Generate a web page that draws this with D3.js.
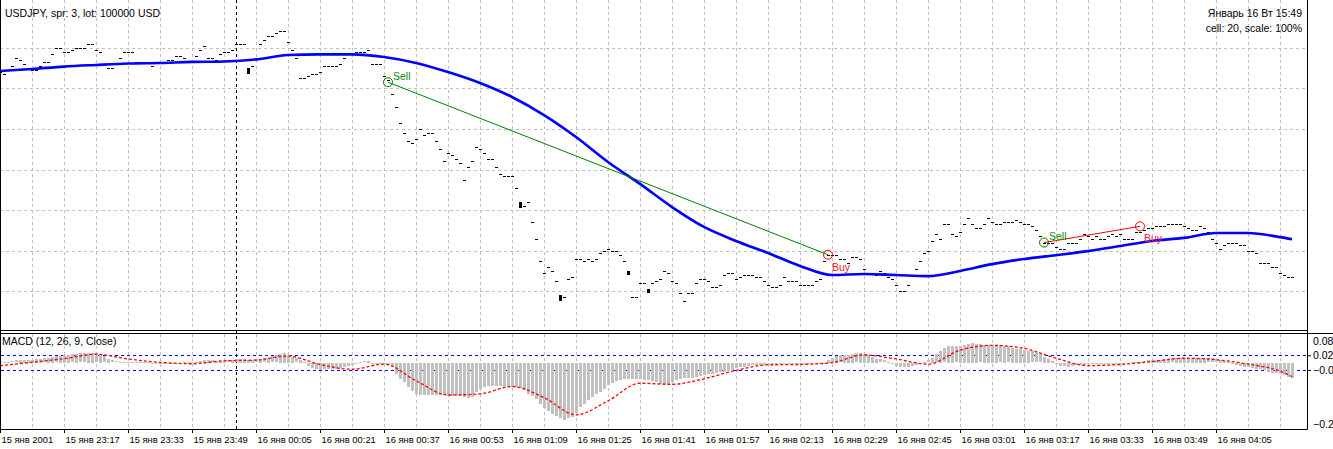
<!DOCTYPE html>
<html>
<head>
<meta charset="utf-8">
<script src="https://cdn.jsdelivr.net/npm/d3@7"></script>
<style>
  body { margin: 0; background: #fff; }
  text { font-family: "Liberation Sans", Arial, sans-serif; }
</style>
</head>
<body>
<svg id="chart"></svg>
<script>
// ---- data (M1 bars, 15 янв 23:01 .. 16 янв 04:24) ----
const timeLabels = ["15 янв 2001", "15 янв 23:17", "15 янв 23:33", "15 янв 23:49", "16 янв 00:05",
  "16 янв 00:21", "16 янв 00:37", "16 янв 00:53", "16 янв 01:09", "16 янв 01:25", "16 янв 01:41",
  "16 янв 01:57", "16 янв 02:13", "16 янв 02:29", "16 янв 02:45", "16 янв 03:01", "16 янв 03:17",
  "16 янв 03:33", "16 янв 03:49", "16 янв 04:05"];
const labelIdx = [0, 16, 32, 48, 64, 80, 96, 112, 128, 144, 160, 176, 192, 208, 224, 240, 256, 272, 288, 304];
const separatorIdx = 59; // 16 янв 00:00

const closes = [
  175.68, 175.67, 175.69, 175.71, 175.75, 175.74, 175.72, 175.70, 175.69, 175.69,
  175.71, 175.73, 175.73, 175.77, 175.80, 175.80, 175.78, 175.78, 175.79, 175.80,
  175.80, 175.80, 175.82, 175.82, 175.79, 175.78, 175.72, 175.70, 175.70, 175.72,
  175.75, 175.78, 175.78, 175.78, 175.73, 175.73, 175.73, 175.73, 175.71, 175.73,
  175.73, 175.73, 175.74, 175.74, 175.76, 175.76, 175.75, 175.73, 175.73, 175.76,
  175.79, 175.81, 175.75, 175.75, 175.74, 175.77, 175.78, 175.78, 175.79, 175.82,
  175.82, 175.82, 175.68, 175.71, 175.75, 175.82, 175.84, 175.86, 175.86, 175.87,
  175.88, 175.88, 175.83, 175.79, 175.75, 175.65, 175.65, 175.66, 175.67, 175.67,
  175.68, 175.71, 175.71, 175.71, 175.71, 175.72, 175.75, 175.77, 175.77, 175.78,
  175.78, 175.78, 175.79, 175.72, 175.72, 175.72, 175.66, 175.64, 175.57, 175.51,
  175.43, 175.38, 175.34, 175.33, 175.35, 175.40, 175.37, 175.38, 175.38, 175.34,
  175.30, 175.24, 175.28, 175.27, 175.25, 175.23, 175.15, 175.21, 175.24, 175.31,
  175.30, 175.28, 175.25, 175.25, 175.21, 175.18, 175.17, 175.17, 175.17, 175.11,
  175.02, 175.02, 175.04, 174.94, 174.86, 174.75, 174.69, 174.72, 174.70, 174.65,
  174.56, 174.57, 174.66, 174.67, 174.76, 174.76, 174.75, 174.76, 174.75, 174.76,
  174.79, 174.80, 174.81, 174.80, 174.80, 174.78, 174.75, 174.69, 174.57, 174.57,
  174.64, 174.64, 174.60, 174.64, 174.65, 174.66, 174.70, 174.69, 174.65, 174.64,
  174.59, 174.55, 174.59, 174.59, 174.64, 174.66, 174.66, 174.65, 174.62, 174.62,
  174.63, 174.68, 174.69, 174.69, 174.66, 174.67, 174.68, 174.68, 174.68, 174.67,
  174.67, 174.65, 174.63, 174.62, 174.62, 174.63, 174.67, 174.65, 174.65, 174.65,
  174.63, 174.63, 174.63, 174.63, 174.65, 174.66, 174.75, 174.78, 174.78, 174.78,
  174.76, 174.76, 174.74, 174.77, 174.77, 174.76, 174.71, 174.69, 174.69, 174.68,
  174.70, 174.69, 174.67, 174.66, 174.63, 174.60, 174.60, 174.63, 174.68, 174.71,
  174.75, 174.79, 174.80, 174.85, 174.88, 174.86, 174.93, 174.93, 174.88, 174.87,
  174.89, 174.93, 174.96, 174.93, 174.91, 174.91, 174.93, 174.96, 174.94, 174.93,
  174.93, 174.94, 174.94, 174.94, 174.95, 174.94, 174.93, 174.93, 174.92, 174.90,
  174.87, 174.84, 174.84, 174.84, 174.82, 174.81, 174.81, 174.84, 174.84, 174.84,
  174.86, 174.88, 174.87, 174.86, 174.87, 174.86, 174.86, 174.87, 174.88, 174.87,
  174.88, 174.86, 174.86, 174.86, 174.89, 174.89, 174.90, 174.91, 174.91, 174.92,
  174.92, 174.92, 174.93, 174.93, 174.93, 174.93, 174.92, 174.91, 174.90, 174.90,
  174.92, 174.91, 174.89, 174.86, 174.84, 174.81, 174.83, 174.84, 174.84, 174.84,
  174.83, 174.83, 174.80, 174.80, 174.79, 174.74, 174.74, 174.74, 174.72, 174.72,
  174.69, 174.68, 174.67, 174.67
];
// bars that show a visible body: [index, open, close]
const bodyBars = [[62, 175.70, 175.67], [130, 175.04, 175.01], [140, 174.58, 174.55],
  [157, 174.70, 174.68], [162, 174.61, 174.59]];

// blue moving average, every 8 bars
const maIdx = [0, 8, 16, 24, 32, 40, 48, 56, 64, 72, 80, 88, 96, 104, 112, 120, 128, 136, 144, 152, 160,
  168, 176, 184, 192, 200, 208, 216, 224, 232, 240, 248, 256, 264, 272, 280, 288, 296, 304, 312, 320, 323];
const maValues = [175.685, 175.695, 175.707, 175.715, 175.722, 175.725, 175.730, 175.732, 175.742, 175.764,
  175.767, 175.767, 175.754, 175.725, 175.680, 175.626, 175.557, 175.468, 175.360, 175.237, 175.129,
  175.015, 174.917, 174.848, 174.789, 174.725, 174.680, 174.685, 174.680, 174.675, 174.700, 174.734,
  174.759, 174.778, 174.798, 174.823, 174.848, 174.863, 174.887, 174.887, 174.867, 174.857];

// trades
const tradeOpenIdx = [97, 261];
const tradeOpenPrice = [175.63, 174.84];
const tradeCloseIdx = [207, 285];
const tradeClosePrice = [174.78, 174.92];

// MACD (12, 26, 9, Close)
const macdHist = [
  0.002, 0.002, 0.003, 0.004, 0.006, 0.007, 0.007, 0.008, 0.008,
  0.010, 0.011, 0.012, 0.013, 0.015, 0.017, 0.019, 0.021, 0.022, 0.023, 0.024,
  0.025, 0.025, 0.026, 0.026, 0.025, 0.022, 0.017, 0.011, 0.006,
  0.004, 0.003, 0.003, 0.003, 0.002, 0.002, 0.002,
  0.001, 0.001, 0.000, 0.000, -0.001, -0.001, -0.001, -0.001, 0.000, 0.000, 0.001, 0.001, 0.002, 0.003,
  0.005, 0.007, 0.007, 0.006, 0.005, 0.005, 0.005, 0.006, 0.007,
  0.009, 0.010, 0.010, 0.008, 0.008, 0.009, 0.010, 0.012, 0.014, 0.017, 0.020, 0.024, 0.027,
  0.022, 0.016, 0.012, 0.008, 0.002, -0.008, -0.014, -0.017, -0.018,
  -0.017, -0.016, -0.015, -0.015, -0.014, -0.012, -0.009, -0.006, -0.002,
  0.002, 0.004, 0.005, -0.001, -0.002, -0.003, -0.004, -0.006, -0.010, -0.029,
  -0.043, -0.052, -0.065, -0.076, -0.083, -0.087,
  -0.088, -0.088, -0.088, -0.088, -0.088, -0.088, -0.089, -0.089, -0.090, -0.091,
  -0.093, -0.094, -0.093, -0.080, -0.070, -0.064,
  -0.063, -0.062, -0.062, -0.062, -0.063, -0.064, -0.065, -0.065, -0.067,
  -0.074, -0.083, -0.090, -0.097,
  -0.111, -0.122, -0.131, -0.138, -0.145, -0.151, -0.154, -0.151, -0.147,
  -0.135, -0.120, -0.111, -0.102, -0.093, -0.083, -0.079, -0.070,
  -0.061, -0.054, -0.050, -0.045, -0.044, -0.043, -0.043, -0.043, -0.043,
  -0.046, -0.047, -0.048, -0.052, -0.056, -0.060, -0.061,
  -0.052, -0.045, -0.043, -0.041, -0.041, -0.040, -0.038,
  -0.035, -0.034, -0.031, -0.029, -0.028, -0.025, -0.025, -0.021, -0.018,
  -0.014, -0.011, -0.010, -0.007, -0.006, -0.006, -0.006,
  -0.005, -0.005, -0.005, -0.004, -0.004, -0.004, -0.004, -0.004, -0.004, -0.004, -0.004,
  -0.003, -0.003, -0.003, -0.003, -0.002,
  0.007, 0.014, 0.018, 0.020, 0.021, 0.021, 0.024, 0.025, 0.026,
  0.024, 0.021, 0.016, 0.011, 0.009, 0.006, 0.002,
  -0.004, -0.007, -0.010, -0.011, -0.010, -0.008, -0.005, -0.003,
  0.002, 0.006, 0.014, 0.023, 0.032, 0.039, 0.046,
  0.045, 0.044, 0.045, 0.049, 0.051, 0.054,
  0.052, 0.050, 0.048, 0.048, 0.048, 0.048, 0.047,
  0.046, 0.044, 0.041, 0.038, 0.037, 0.035, 0.033, 0.031,
  0.028, 0.023, 0.016, 0.010, 0.005,
  -0.004, -0.007, -0.009, -0.010, -0.008,
  -0.006, -0.005, -0.005, -0.004, -0.004, -0.004, -0.004, -0.003, -0.003, -0.003,
  -0.002, -0.001, -0.001, 0.000, 0.001,
  0.002, 0.003, 0.004, 0.006, 0.007, 0.008, 0.008,
  0.010, 0.011, 0.012, 0.013, 0.013, 0.014, 0.014, 0.014, 0.013, 0.013, 0.013, 0.012, 0.012,
  0.009, 0.007, 0.005, 0.001, -0.003, -0.006,
  -0.009, -0.011, -0.012, -0.014, -0.015, -0.016,
  -0.020, -0.024, -0.026, -0.027, -0.029, -0.034, -0.039, -0.041
];
// signal line, sampled at maIdx
const signalValues = [-0.008, 0.001, 0.011, 0.023, 0.010, 0.001, -0.003, 0.005, 0.007, 0.018,
  -0.005, -0.018, -0.004, -0.049, -0.088, -0.085, -0.065, -0.095, -0.142, -0.104, -0.056,
  -0.059, -0.044, -0.021, -0.006, -0.005, 0.000, 0.021, 0.010, -0.004, 0.034, 0.047,
  0.039, 0.012, -0.008, -0.005, 0.003, 0.012, 0.008, -0.004, -0.023, -0.038];

const priceTicks = [176.0, 175.8, 175.6, 175.4, 175.2, 175.0, 174.8, 174.6, 174.4];
const macdLevels = [0.02, -0.02];
const macdScaleMax = 0.08;
const macdScaleMin = -0.2;

// ---- layout ----
const svgWidth = 1333;
const svgHeight = 449;
const axisX = 1307;
const priceBottom = 330;
const macdTop = 334;
const macdBottom = 429;
const font = "'Liberation Sans', Arial, sans-serif";

const svg = d3.select("#chart")
  .attr("width", svgWidth)
  .attr("height", svgHeight);

svg.append("rect")
  .attr("width", svgWidth)
  .attr("height", svgHeight)
  .attr("fill", "#fff");

const x = d3.scaleLinear().domain([0, 326.75]).range([0, axisX]);
const yPrice = d3.scaleLinear().domain([174.4, 176.0]).range([331.9, 7.1]);
const yMacd = d3.scaleLinear().domain([macdScaleMin, macdScaleMax]).range([436.15, 333.25]);
const px = i => Math.round(x(i));

const defs = svg.append("defs");
defs.append("clipPath").attr("id", "clipPrice")
  .append("rect").attr("x", 1).attr("y", 0).attr("width", axisX - 1).attr("height", priceBottom);
defs.append("clipPath").attr("id", "clipMacd")
  .append("rect").attr("x", 1).attr("y", macdTop).attr("width", axisX - 1).attr("height", macdBottom - macdTop);
defs.append("clipPath").attr("id", "clipPriceAxis")
  .append("rect").attr("x", axisX).attr("y", 0).attr("width", 40).attr("height", 333);

// ---- grid ----
const gridIdx = d3.range(8, 326, 8);
const grid = svg.append("g")
  .attr("stroke", "#c0c0c0")
  .attr("stroke-width", 1)
  .attr("stroke-dasharray", "3,3");

gridIdx.forEach(i => {
  grid.append("line")
    .attr("x1", px(i) + 0.5).attr("x2", px(i) + 0.5)
    .attr("y1", 0).attr("y2", priceBottom);
  grid.append("line")
    .attr("x1", px(i) + 0.5).attr("x2", px(i) + 0.5)
    .attr("y1", macdTop).attr("y2", macdBottom);
});

priceTicks.filter(d => d < 176.0 && d > 174.4).forEach(d => {
  grid.append("line")
    .attr("x1", 0).attr("x2", axisX)
    .attr("y1", Math.round(yPrice(d)) + 0.5).attr("y2", Math.round(yPrice(d)) + 0.5);
});

// MACD levels
macdLevels.forEach(v => {
  svg.append("line")
    .attr("x1", 1).attr("x2", axisX)
    .attr("y1", Math.round(yMacd(v)) + 0.5).attr("y2", Math.round(yMacd(v)) + 0.5)
    .attr("stroke", "#0000ff")
    .attr("stroke-dasharray", "3,3");
});

// period separator
svg.append("line")
  .attr("x1", px(separatorIdx) + 0.5).attr("x2", px(separatorIdx) + 0.5)
  .attr("y1", 0).attr("y2", macdBottom)
  .attr("stroke", "#000")
  .attr("stroke-dasharray", "3,3");

// ---- price panel ----
const pricePlot = svg.append("g").attr("clip-path", "url(#clipPrice)");

pricePlot.selectAll(".bar")
  .data(closes)
  .enter()
  .append("rect")
  .attr("class", "bar")
  .attr("x", (d, i) => px(i) - 1)
  .attr("y", d => Math.round(yPrice(d)))
  .attr("width", 3)
  .attr("height", 1)
  .attr("fill", "#000");

pricePlot.selectAll(".body")
  .data(bodyBars)
  .enter()
  .append("rect")
  .attr("class", "body")
  .attr("x", d => px(d[0]) - 1)
  .attr("y", d => Math.round(yPrice(Math.max(d[1], d[2]))))
  .attr("width", 3)
  .attr("height", d => Math.max(2, Math.round(Math.abs(yPrice(d[1]) - yPrice(d[2])))))
  .attr("fill", "#000");

const maLine = d3.line()
  .x((d, k) => x(maIdx[k]))
  .y(d => yPrice(d))
  .curve(d3.curveMonotoneX);

pricePlot.append("path")
  .attr("d", maLine(maValues))
  .attr("fill", "none")
  .attr("stroke", "#0000ff")
  .attr("stroke-width", 2.6);

// trades
tradeOpenIdx.forEach((openIdx, k) => {
  const x1 = x(openIdx), y1 = yPrice(tradeOpenPrice[k]);
  const x2 = x(tradeCloseIdx[k]), y2 = yPrice(tradeClosePrice[k]);
  const profit = tradeClosePrice[k] < tradeOpenPrice[k];

  pricePlot.append("line")
    .attr("x1", x1).attr("y1", y1).attr("x2", x2).attr("y2", y2)
    .attr("stroke", profit ? "#008000" : "#ff0000")
    .attr("stroke-width", 1);

  pricePlot.append("circle")
    .attr("cx", x1).attr("cy", y1).attr("r", 4.5)
    .attr("fill", "none").attr("stroke", "#008000");
  pricePlot.append("text")
    .attr("x", x1 + 5).attr("y", y1 - 2.5)
    .attr("font-size", 10.5)
    .attr("fill", "#0a8a0a")
    .text("Sell");

  pricePlot.append("circle")
    .attr("cx", x2).attr("cy", y2).attr("r", 4.5)
    .attr("fill", "none").attr("stroke", "#ff0000");
  pricePlot.append("text")
    .attr("x", x2 + 4).attr("y", y2 + 16)
    .attr("font-size", 10.5)
    .attr("fill", "#f02020")
    .text("Buy");
});

// ---- MACD panel ----
const macdPlot = svg.append("g").attr("clip-path", "url(#clipMacd)");
const zeroY = yMacd(0);

macdPlot.selectAll(".hist")
  .data(macdHist)
  .enter()
  .append("rect")
  .attr("class", "hist")
  .attr("x", (d, i) => px(i) - 1)
  .attr("y", d => Math.round(Math.min(yMacd(d), zeroY)))
  .attr("width", 3)
  .attr("height", d => Math.max(1, Math.round(Math.abs(yMacd(d) - zeroY))))
  .attr("fill", "#c0c0c0");

const signalLine = d3.line()
  .x((d, k) => x(maIdx[k]))
  .y(d => yMacd(d))
  .curve(d3.curveMonotoneX);

macdPlot.append("path")
  .attr("d", signalLine(signalValues))
  .attr("fill", "none")
  .attr("stroke", "#ff0000")
  .attr("stroke-width", 1.3)
  .attr("stroke-dasharray", "3,2");

// ---- frames ----
const frame = svg.append("g").attr("stroke", "#000").attr("stroke-width", 1);
frame.append("line").attr("x1", 0.5).attr("x2", 0.5).attr("y1", 0).attr("y2", macdBottom + 0.5);
frame.append("line").attr("x1", axisX + 0.5).attr("x2", axisX + 0.5).attr("y1", 0).attr("y2", macdBottom + 0.5);
frame.append("line").attr("x1", 0).attr("x2", axisX + 0.5).attr("y1", priceBottom + 0.5).attr("y2", priceBottom + 0.5);
frame.append("line").attr("x1", 0).attr("x2", svgWidth).attr("y1", macdTop - 0.5).attr("y2", macdTop - 0.5);
frame.append("line").attr("x1", 0).attr("x2", axisX + 0.5).attr("y1", macdBottom + 0.5).attr("y2", macdBottom + 0.5);

// ---- axes ----
const priceAxis = d3.axisRight(yPrice)
  .tickValues(priceTicks)
  .tickSize(4)
  .tickPadding(2)
  .tickFormat(d3.format(".2f"));

svg.append("g")
  .attr("transform", `translate(${axisX},0)`)
  .attr("clip-path", "url(#clipPriceAxis)")
  .call(priceAxis)
  .call(g => g.select(".domain").remove())
  .call(g => g.selectAll("text").attr("font-family", font).attr("font-size", 10.5).attr("fill", "#000"));

const macdAxis = d3.axisRight(yMacd)
  .tickValues(macdLevels)
  .tickSize(4)
  .tickPadding(2)
  .tickFormat(d3.format(".4f"));

svg.append("g")
  .attr("transform", `translate(${axisX},0)`)
  .call(macdAxis)
  .call(g => g.select(".domain").remove())
  .call(g => g.selectAll("text").attr("font-family", font).attr("font-size", 10.5).attr("fill", "#000"));

// window max / min labels, drawn inside the panel edges as the terminal does
[[macdScaleMax, macdTop + 7], [macdScaleMin, macdBottom - 5]].forEach(([v, yy]) => {
  svg.append("text")
    .attr("x", axisX + 6)
    .attr("y", yy)
    .attr("dy", "0.35em")
    .attr("font-size", 10.5)
    .text(d3.format(".4f")(v));
});

const timeAxis = d3.axisBottom(x)
  .tickValues(labelIdx)
  .tickSize(4)
  .tickPadding(3)
  .tickFormat((d, i) => timeLabels[i]);

svg.append("g")
  .attr("transform", `translate(0,${macdBottom})`)
  .call(timeAxis)
  .call(g => g.select(".domain").remove())
  .call(g => g.selectAll("text")
    .attr("text-anchor", "start")
    .attr("x", 1)
    .attr("font-family", font)
    .attr("font-size", 9.4)
    .attr("fill", "#000"));

// ---- captions ----
svg.append("text")
  .attr("x", 5).attr("y", 13).attr("dy", "0.35em")
  .attr("font-size", 10.5)
  .text("USDJPY, spr: 3, lot: 100000 USD");

svg.append("text")
  .attr("x", 1302).attr("y", 13).attr("dy", "0.35em")
  .attr("text-anchor", "end")
  .attr("font-size", 10.5)
  .text("Январь 16 Вт 15:49");

svg.append("text")
  .attr("x", 1302).attr("y", 28.5).attr("dy", "0.35em")
  .attr("text-anchor", "end")
  .attr("font-size", 10.5)
  .text("cell: 20, scale: 100%");

svg.append("text")
  .attr("x", 2).attr("y", 341).attr("dy", "0.35em")
  .attr("font-size", 10.5)
  .text("MACD (12, 26, 9, Close)");
</script>
</body>
</html>
